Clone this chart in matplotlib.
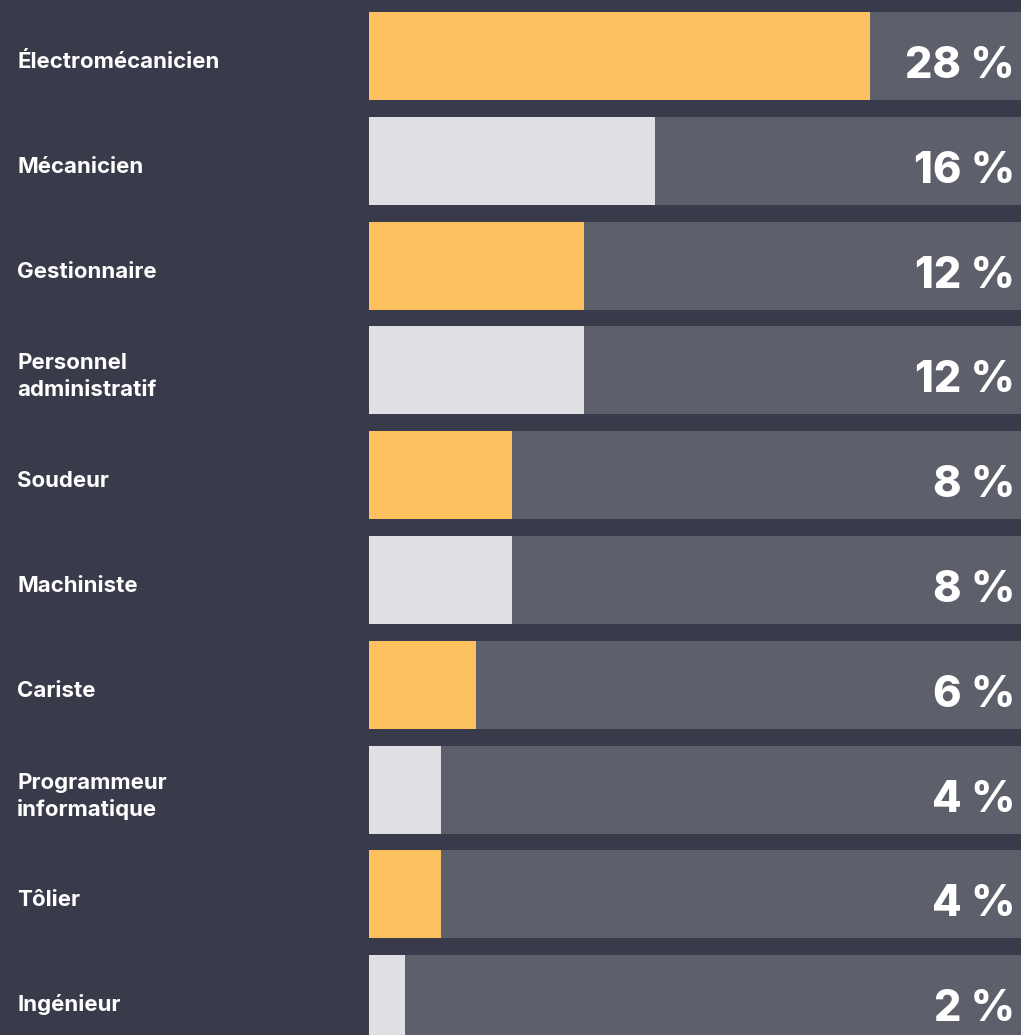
import numpy as np
import matplotlib.pyplot as plt

categories = ['Électromécanicien', 'Mécanicien', 'Gestionnaire', 'Personnel\nadministratif',
              'Soudeur', 'Machiniste', 'Cariste', 'Programmeur\ninformatique', 'Tôlier', 'Ingénieur']
values = [28, 16, 12, 12, 8, 8, 6, 4, 4, 2]
value_labels = ['28 %', '16 %', '12 %', '12 %', '8 %', '8 %', '6 %', '4 %', '4 %', '2 %']

bg = '#393b4b'
track = '#5d5f6b'
colors = ['#fdc25f', '#e0dfe3']

W, H = 1021, 1035
fig = plt.figure(figsize=(W / 100, H / 100), dpi=100, facecolor=bg)

# axes covers the track area: x from 369 px to right edge
ax = fig.add_axes([369 / W, 0, 1 - 369 / W, 1])
ax.set_facecolor(bg)
xmax = 652 / 17.9
pitch = 104.8
y = np.arange(len(categories))
ax.set_xlim(0, xmax)
ax.set_ylim((H - 56) / pitch, -56 / pitch)
h = 88 / pitch

ax.barh(y, [xmax] * len(y), height=h, color=track, zorder=1)
ax.barh(y, values, height=h, color=[colors[i % 2] for i in y], zorder=2)
for i, lab in enumerate(value_labels):
    ax.text(xmax - 6 / 17.9, i + 22 / pitch, lab, ha='right', va='baseline', color='white',
            fontsize=31, fontweight='heavy', family='Inter', zorder=3)
ax.axis('off')

# left labels, one line at a time
for i, cat in enumerate(categories):
    lines = cat.split('\n')
    cy = 56 + pitch * i
    if len(lines) == 1:
        bases = [cy + 12]
    else:
        bases = [cy - 1, cy + 26]
    for line, b in zip(lines, bases):
        fig.text(17 / W, 1 - b / H, line, ha='left', va='baseline', color='white',
                 fontsize=16, fontweight='bold', family='Inter')

fig.savefig('out.png', dpi=100, facecolor=bg)
